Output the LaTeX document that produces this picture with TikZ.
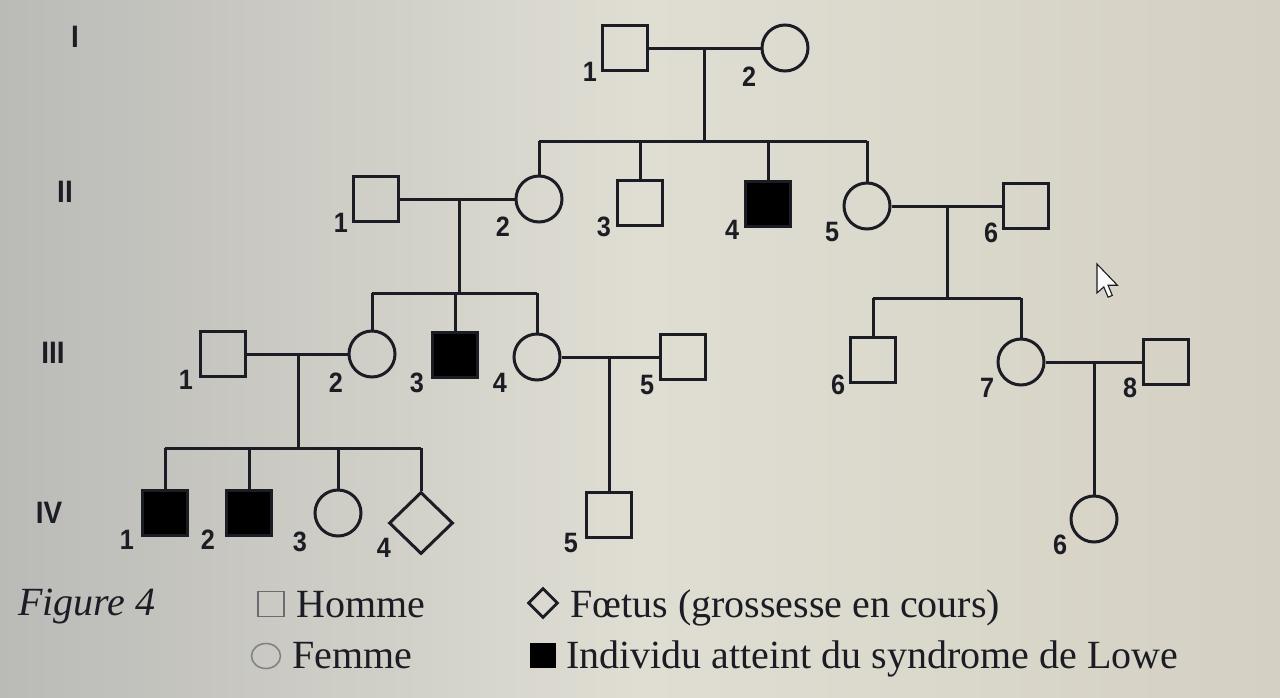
\documentclass[tikz,border=0pt]{standalone}
\usepackage{fontspec}
\setmainfont{Liberation Serif}
\newfontfamily\numfont[FakeStretch=0.9]{Liberation Sans}
\usetikzlibrary{shapes.geometric}
\definecolor{ink}{RGB}{28,28,36}
\definecolor{bgL}{RGB}{186,186,183}
\definecolor{bgM}{RGB}{224,222,211}
\definecolor{bgR}{RGB}{212,208,195}
\begin{document}
\begin{tikzpicture}[x=1pt,y=-1pt,
  sq/.style={draw=ink, line width=3pt, rectangle, minimum width=45pt, minimum height=45pt, inner sep=0pt},
  aff/.style={sq, fill=black},
  ci/.style={draw=ink, line width=3pt, circle, minimum size=46pt, inner sep=0pt},
  fet/.style={draw=ink, line width=3pt, diamond, minimum width=64pt, minimum height=62pt, inner sep=0pt},
  num/.style={font=\numfont\bfseries\fontsize{28}{30}\selectfont, text=ink, inner sep=0pt},
  gen/.style={font=\numfont\bfseries\fontsize{31}{33}\selectfont, text=ink, inner sep=0pt},
  leg/.style={font=\fontsize{40}{44}\selectfont, text=ink, inner sep=0pt, anchor=base west},
  link/.style={draw=ink, line width=3pt}
]
\useasboundingbox (0,0) rectangle (1280,697);
\shade[left color=bgL, right color=bgR, middle color=bgM] (0,0) rectangle (1280,697);

% generation labels
\node[gen] (gI) at (75,37) {I};
\node[gen] (gII) at (65,192) {II};
\node[gen] (gIII) at (53,353) {III};
\node[gen] (gIV) at (49,513) {IV};

% Generation I
\node[sq] (I1) at (625,48) {};
\node[ci] (I2) at (785,48) {};
\node[num] (nI1) at (590,72) {1};
\node[num] (nI2) at (749,77) {2};

% Generation II
\node[sq] (II1) at (376,199) {};
\node[ci] (II2) at (539,199) {};
\node[sq] (II3) at (640,203) {};
\node[aff] (II4) at (768,204) {};
\node[ci] (II5) at (867,206) {};
\node[sq] (II6) at (1026,206) {};
\node[num] (nII1) at (341,223) {1};
\node[num] (nII2) at (503,227) {2};
\node[num] (nII3) at (604,227) {3};
\node[num] (nII4) at (732,230) {4};
\node[num] (nII5) at (832,232) {5};
\node[num] (nII6) at (991,233) {6};

% Generation III
\node[sq] (III1) at (223,354) {};
\node[ci] (III2) at (372,354) {};
\node[aff] (III3) at (455,355) {};
\node[ci] (III4) at (537,357) {};
\node[sq] (III5) at (683,357) {};
\node[sq] (III6) at (873,360) {};
\node[ci] (III7) at (1021,362) {};
\node[sq] (III8) at (1166,362) {};
\node[num] (nIII1) at (186,380) {1};
\node[num] (nIII2) at (336,383) {2};
\node[num] (nIII3) at (417,383) {3};
\node[num] (nIII4) at (500,383) {4};
\node[num] (nIII5) at (647,385) {5};
\node[num] (nIII6) at (838,385) {6};
\node[num] (nIII7) at (987,388) {7};
\node[num] (nIII8) at (1130,388) {8};

% Generation IV
\node[aff] (IV1) at (165,513) {};
\node[aff] (IV2) at (249,513) {};
\node[ci] (IV3) at (338,513) {};
\node[fet] (IV4) at (421,523) {};
\node[sq] (IV5) at (609,515) {};
\node[ci] (IV6) at (1094,519) {};
\node[num] (nIV1) at (127,540) {1};
\node[num] (nIV2) at (208,540) {2};
\node[num] (nIV3) at (300,542) {3};
\node[num] (nIV4) at (384,548) {4};
\node[num] (nIV5) at (571,543) {5};
\node[num] (nIV6) at (1060,545) {6};

% couples and descent lines
\coordinate (mI) at (704,48);
\coordinate (sII) at (704,141);
\draw[link] (I1.east) -- (I2.west);
\draw[link] (mI) -- (sII);
\draw[link] (II2.north |- sII) -- (II5.north |- sII);
\foreach \c in {II2,II3,II4,II5} \draw[link] (\c.north |- sII) -- (\c.north);

\coordinate (mII) at (459,199);
\coordinate (sIII) at (459,293);
\draw[link] (II1.east) -- (II2.west);
\draw[link] (mII) -- (sIII);
\draw[link] (III2.north |- sIII) -- (III4.north |- sIII);
\foreach \c in {III2,III3,III4} \draw[link] (\c.north |- sIII) -- (\c.north);

\coordinate (mIIb) at (947,206);
\coordinate (sIIIb) at (947,298);
\draw[link] (II5.east) -- (II6.west);
\draw[link] (mIIb) -- (sIIIb);
\draw[link] (III6.north |- sIIIb) -- (III7.north |- sIIIb);
\foreach \c in {III6,III7} \draw[link] (\c.north |- sIIIb) -- (\c.north);

\coordinate (mIII) at (298,354);
\coordinate (sIV) at (298,448);
\draw[link] (III1.east) -- (III2.west);
\draw[link] (mIII) -- (sIV);
\draw[link] (IV1.north |- sIV) -- (IV4.north |- sIV);
\foreach \c in {IV1,IV2,IV3,IV4} \draw[link] (\c.north |- sIV) -- (\c.north);

\coordinate (mIIIb) at (609,357);
\draw[link] (III4.east) -- (III5.west);
\draw[link] (mIIIb) -- (IV5.north);

\coordinate (mIIIc) at (1094,362);
\draw[link] (III7.east) -- (III8.west);
\draw[link] (mIIIc) -- (IV6.north);

% mouse pointer
\draw[fill=white!85!bgM, draw=ink, line width=1.1pt, shift={(1097,264)}, scale=1.7]
  (0,0) -- (0,17) -- (4,13.5) -- (6.5,19.5) -- (9,18.5) -- (6.5,12.5) -- (12,12.5) -- cycle;

% legend
\node[leg, font=\itshape\fontsize{40}{44}\selectfont] (fig) at (18,615) {Figure 4};
\node[draw=ink!65, line width=1.6pt, rectangle, minimum width=26pt, minimum height=25pt, inner sep=0pt] (lsq) at (271,604) {};
\node[leg] (lhom) at (296,617) {Homme};
\node[draw=ink!55, line width=1.6pt, ellipse, minimum width=29pt, minimum height=25pt, inner sep=0pt] (lci) at (266,656) {};
\node[leg] (lfem) at (292,668) {Femme};
\node[draw=ink, line width=2.8pt, diamond, minimum width=30pt, minimum height=30pt, inner sep=0pt] (ldi) at (543,603) {};
\node[leg] (lfet) at (570,617) {Fœtus (grossesse en cours)};
\node[fill=black, rectangle, minimum width=26pt, minimum height=25pt, inner sep=0pt] (laf) at (543,655) {};
\node[leg] (lind) at (566,668) {Individu atteint du syndrome de Lowe};
\end{tikzpicture}
\end{document}
